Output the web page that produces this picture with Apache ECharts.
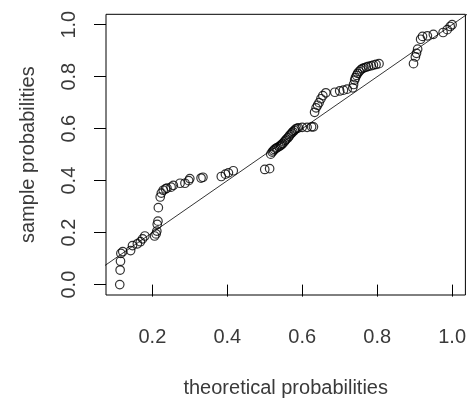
<!DOCTYPE html>
<html>
<head>
<meta charset="utf-8">
<script src="https://cdn.jsdelivr.net/npm/echarts@6/dist/echarts.min.js"></script>
<style>html,body{margin:0;padding:0;background:#fff;}#c{width:469px;height:403px;}</style>
</head>
<body>
<div id="c"></div>
<script>
// theoretical probabilities (x) and sample probabilities (y)
const theoretical = [0.113,0.114,0.115,0.116,0.121,0.142,0.147,0.160,0.168,0.174,0.180,0.206,0.210,0.212,0.213,0.215,0.216,0.221,0.224,0.229,0.235,0.239,0.250,0.256,0.274,0.287,0.297,0.300,0.330,0.335,0.384,0.395,0.403,0.416,0.500,0.513,0.516,0.520,0.523,0.526,0.530,0.533,0.538,0.542,0.545,0.548,0.552,0.555,0.558,0.562,0.565,0.568,0.572,0.575,0.579,0.582,0.586,0.590,0.600,0.613,0.625,0.630,0.633,0.637,0.641,0.645,0.650,0.655,0.663,0.687,0.700,0.710,0.720,0.735,0.737,0.740,0.742,0.745,0.748,0.752,0.756,0.760,0.765,0.771,0.777,0.784,0.790,0.797,0.805,0.897,0.902,0.905,0.908,0.916,0.921,0.934,0.950,0.976,0.987,0.995,1.000];
const sample      = [0.000,0.056,0.090,0.120,0.127,0.131,0.150,0.157,0.165,0.176,0.187,0.187,0.195,0.206,0.232,0.244,0.296,0.337,0.352,0.363,0.368,0.371,0.375,0.382,0.390,0.390,0.400,0.408,0.410,0.413,0.416,0.425,0.430,0.438,0.443,0.446,0.502,0.510,0.515,0.520,0.524,0.527,0.531,0.535,0.539,0.543,0.549,0.555,0.560,0.565,0.571,0.577,0.583,0.588,0.593,0.598,0.601,0.603,0.605,0.605,0.607,0.607,0.663,0.680,0.690,0.700,0.715,0.727,0.738,0.740,0.745,0.748,0.752,0.757,0.770,0.787,0.796,0.805,0.813,0.820,0.826,0.831,0.834,0.837,0.840,0.842,0.845,0.847,0.850,0.850,0.876,0.890,0.906,0.944,0.955,0.957,0.963,0.970,0.981,0.993,1.000];
const xTicks = [0.2, 0.4, 0.6, 0.8, 1.0];
const yTicks = [0.0, 0.2, 0.4, 0.6, 0.8, 1.0];
const refLine = [[0.0, 0.0], [1.1, 1.1]];

const points = theoretical.map((x, i) => [x, sample[i]]);
const font = 'Liberation Sans, Arial, sans-serif';
const chart = echarts.init(document.getElementById('c'), null, {renderer: 'canvas'});
chart.setOption({
  animation: false,
  backgroundColor: '#fff',
  grid: {left: 106, top: 14.3, width: 364.5, height: 288.4, show: true, borderColor: '#000', borderWidth: 1, backgroundColor: 'transparent'},
  xAxis: {
    type: 'value', min: 0.0763, max: 1.0355,
    axisLine: {show: false},
    splitLine: {show: false},
    axisTick: {show: true, length: 12, customValues: xTicks, lineStyle: {color: '#000', width: 1}},
    axisLabel: {customValues: xTicks, formatter: v => v.toFixed(1), color: '#3a3a3a', fontFamily: font, fontSize: 20, margin: 32},
    name: 'theoretical probabilities', nameLocation: 'middle', nameGap: 83,
    nameTextStyle: {color: '#3a3a3a', fontFamily: font, fontSize: 20}
  },
  yAxis: {
    type: 'value', min: -0.04, max: 1.04,
    axisLine: {show: false},
    splitLine: {show: false},
    axisTick: {show: true, length: 12, customValues: yTicks, lineStyle: {color: '#000', width: 1}},
    axisLabel: {customValues: yTicks, formatter: v => v.toFixed(1), color: '#3a3a3a', fontFamily: font, fontSize: 20, rotate: 90, margin: 27},
    name: 'sample probabilities', nameLocation: 'middle', nameGap: 68, nameRotate: 90,
    nameTextStyle: {color: '#3a3a3a', fontFamily: font, fontSize: 20}
  },
  series: [
    {
      type: 'line', data: refLine, symbol: 'none', clip: true, silent: true,
      lineStyle: {color: '#000', width: 0.8}
    },
    {
      type: 'scatter', data: points, symbol: 'circle', symbolSize: 8.5, clip: false,
      itemStyle: {color: 'rgba(0,0,0,0)', borderColor: '#000', borderWidth: 1.2}
    }
  ]
});
</script>
</body>
</html>
